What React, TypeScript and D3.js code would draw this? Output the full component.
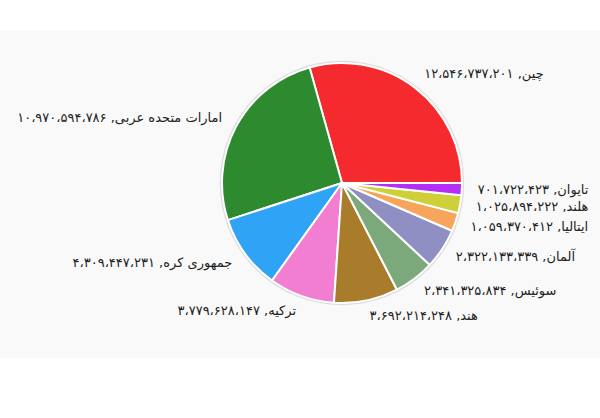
import React from "react";
import * as d3 from "d3";

const countries = ["چین", "امارات متحده عربی", "جمهوری کره", "ترکیه", "هند", "سوئیس", "آلمان", "ایتالیا", "هلند", "تایوان"];
const values = [12546737201, 10970594786, 4309447231, 3779628147, 3692214248, 2341325834, 2322133339, 1059370412, 1025894222, 701722423];
const colors = ["#F52A2E", "#2D8A2F", "#2FA3F5", "#F27ED2", "#A87C2A", "#7BA97C", "#8F8FC4", "#F6A55B", "#CFCF3A", "#B42EF5"];

const W = 600, H = 418;
const cx = 342, cy = 183, R = 120, LR = 136;

const toPersian = (n: number) =>
  d3.format(",")(n).replace(/,/g, "،").replace(/\d/g, (d) => "۰۱۲۳۴۵۶۷۸۹"[+d]);

export default function App() {
  const data = countries.map((c, i) => ({ c, v: values[i], col: colors[i] }));
  const pie = d3.pie<any>().value((d) => d.v).sort(null).startAngle(Math.PI / 2).endAngle(Math.PI / 2 - 2 * Math.PI);
  const arcs = pie(data);
  const arc = d3.arc<any>().innerRadius(0).outerRadius(R);
  return (
    <svg width={W} height={H} style={{ position: "absolute", left: 0, top: 0, display: "block" }}>
      <rect x={0} y={0} width={W} height={H} fill="#ffffff" />
      <rect x={0} y={30} width={W} height={328} fill="#f9f9f9" />
      <circle cx={cx} cy={cy} r={R + 1.2} fill="none" stroke="#dcdcdc" strokeWidth={2} />
      <g transform={`translate(${cx},${cy})`}>
        {arcs.map((a, i) => (
          <path key={i} d={arc(a) as string} fill={a.data.col} stroke="#ffffff" strokeWidth={2} strokeLinejoin="round" />
        ))}
        {arcs.map((a, i) => {
          const m = (a.startAngle + a.endAngle) / 2;
          const x = LR * Math.sin(m);
          const y = -LR * Math.cos(m);
          const right = x >= 0;
          return (
            <text key={"t" + i} x={x} y={y} direction="rtl" textAnchor={right ? "end" : "start"}
              dominantBaseline="middle" fontFamily="DejaVu Sans" fontSize={13} fill="#222">
              {`${a.data.c}, ${toPersian(a.data.v)}`}
            </text>
          );
        })}
      </g>
    </svg>
  );
}
